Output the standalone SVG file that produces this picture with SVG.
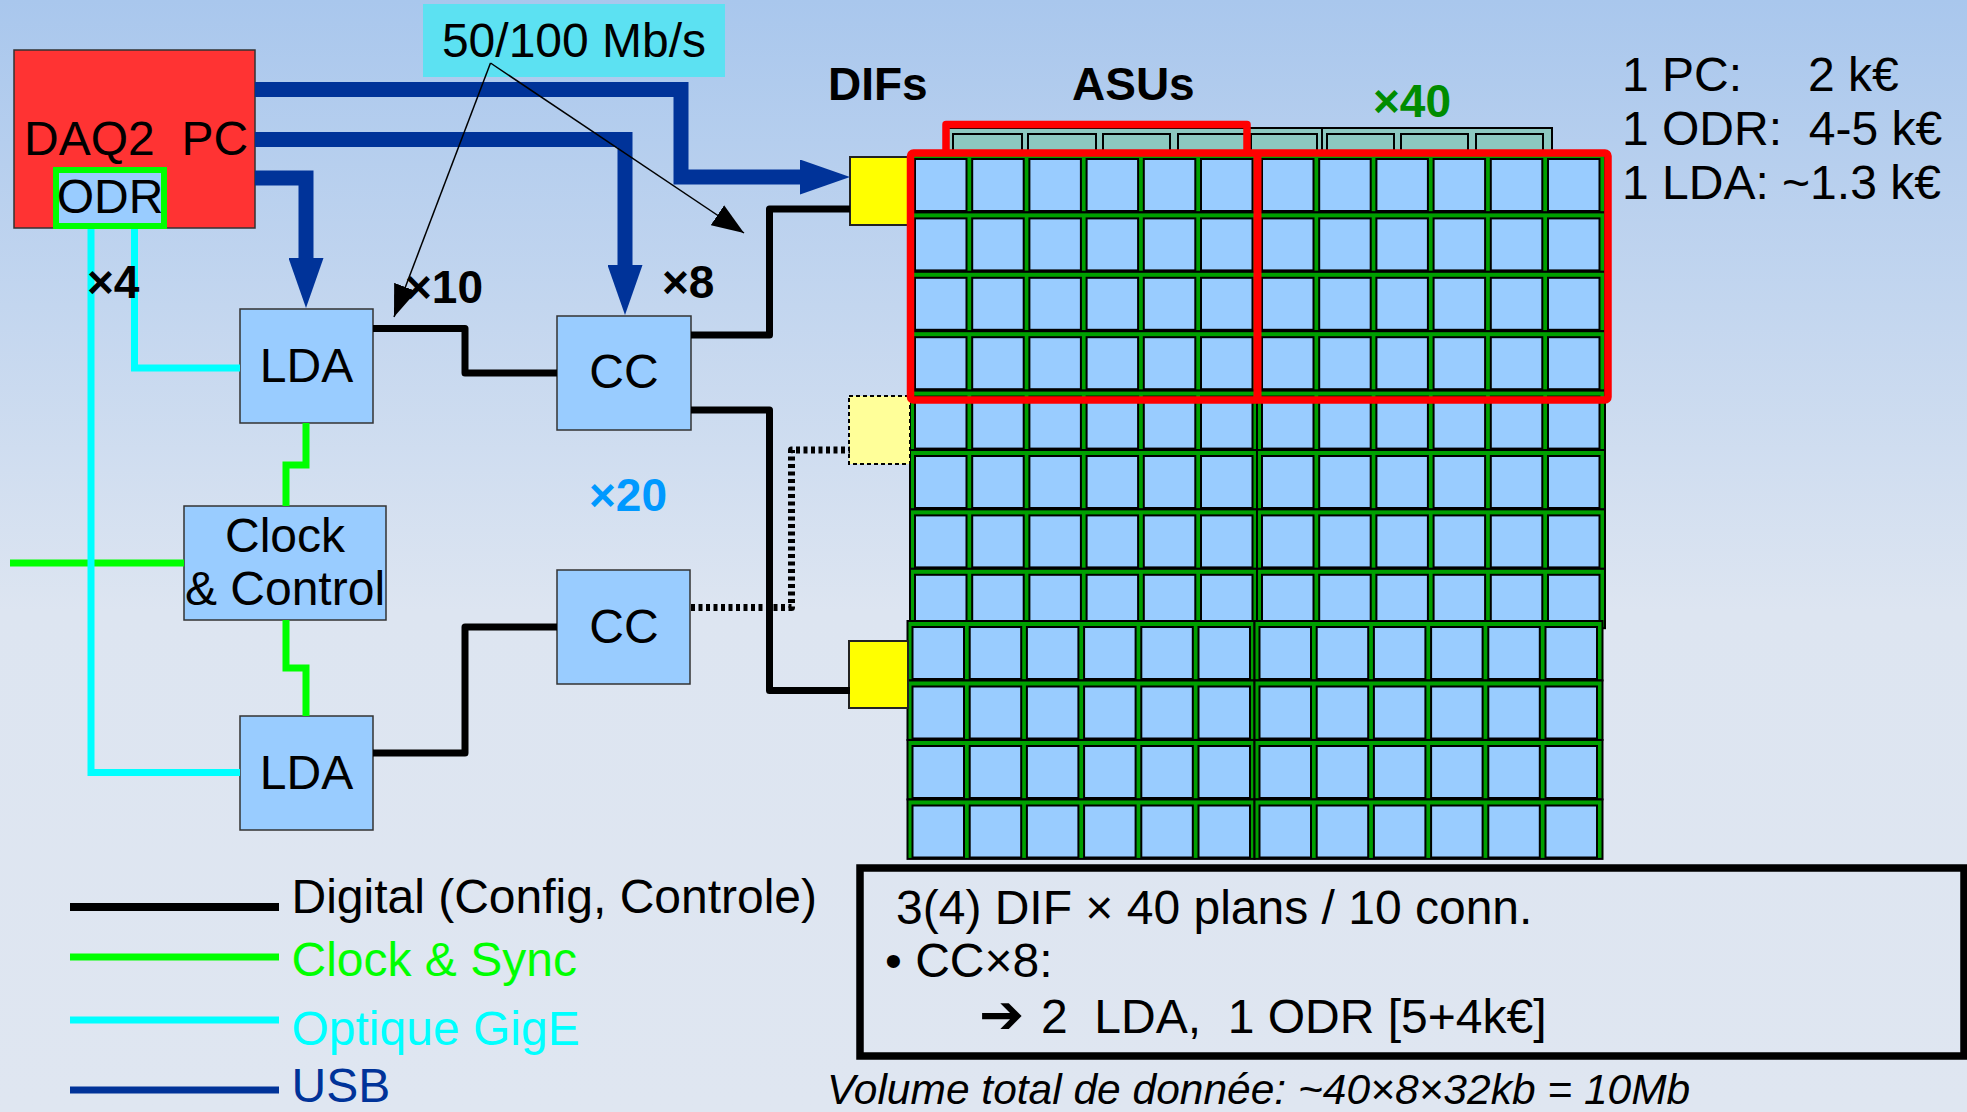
<svg xmlns="http://www.w3.org/2000/svg" xmlns:xlink="http://www.w3.org/1999/xlink" width="1967" height="1112" viewBox="0 0 1967 1112">
<style>
text{font-family:"Liberation Sans",Arial,sans-serif;font-size:48px;fill:#000}
.b{font-weight:bold;font-size:46px}
.box{fill:#99ccff;stroke:#333;stroke-width:1.5}
.usb{fill:none;stroke:#003399;stroke-width:15;stroke-linejoin:miter}
.dig{fill:none;stroke:#000;stroke-width:7;stroke-linejoin:round}
.clk{fill:none;stroke:#00ff00;stroke-width:7}
.opt{fill:none;stroke:#00ffff;stroke-width:7}
.thin{fill:none;stroke:#000;stroke-width:1.5}
.half{fill:#00a000;stroke:#000;stroke-width:2}
.cell{fill:#99ccff;stroke:#000;stroke-width:2}
.teal{fill:#8cc8c0;stroke:#000;stroke-width:2}
.red{fill:none;stroke:#ff0000;stroke-width:7.5;stroke-linejoin:round}
</style>
<defs>
<linearGradient id="bg" x1="0" y1="0" x2="0" y2="1112" gradientUnits="userSpaceOnUse">
<stop offset="0" stop-color="#a9c7ed"/>
<stop offset="0.55" stop-color="#dde5f1"/>
<stop offset="1" stop-color="#dfe6f1"/>
</linearGradient>
<marker id="ua" markerUnits="userSpaceOnUse" markerWidth="50" markerHeight="35" viewBox="0 -17.5 50 35" refX="0" refY="0" orient="auto">
<path d="M0,-17.5 L50,0 L0,17.5 Z" fill="#003399"/>
</marker>
<marker id="ta" markerUnits="userSpaceOnUse" markerWidth="32" markerHeight="24" viewBox="0 -12 32 24" refX="32" refY="0" orient="auto">
<path d="M0,-12 L32,0 L0,12 Z" fill="#000"/>
</marker>
<g id="row">
<rect class="half" x="0" y="0" width="347" height="59.4"/>
<rect class="half" x="347" y="0" width="348" height="59.4"/>
<rect class="cell" x="5" y="6" width="51.5" height="52"/>
<rect class="cell" x="62.2" y="6" width="51.5" height="52"/>
<rect class="cell" x="119.4" y="6" width="51.5" height="52"/>
<rect class="cell" x="176.6" y="6" width="51.5" height="52"/>
<rect class="cell" x="233.8" y="6" width="51.5" height="52"/>
<rect class="cell" x="291" y="6" width="51.5" height="52"/>
<rect class="cell" x="352" y="6" width="51.5" height="52"/>
<rect class="cell" x="409.2" y="6" width="51.5" height="52"/>
<rect class="cell" x="466.4" y="6" width="51.5" height="52"/>
<rect class="cell" x="523.6" y="6" width="51.5" height="52"/>
<rect class="cell" x="580.8" y="6" width="51.5" height="52"/>
<rect class="cell" x="638" y="6" width="51.5" height="52"/>
</g>
</defs>
<rect x="0" y="0" width="1967" height="1112" fill="url(#bg)"/>

<!-- ASU detector planes -->
<g id="asus">
<rect class="teal" x="947" y="128" width="605" height="40"/>
<line x1="1322" y1="128" x2="1322" y2="168" stroke="#000" stroke-width="2"/>
<rect class="teal" x="953" y="134" width="69" height="30"/>
<rect class="teal" x="1028" y="134" width="68" height="30"/>
<rect class="teal" x="1103" y="134" width="67" height="30"/>
<rect class="teal" x="1178" y="134" width="67" height="30"/>
<rect class="teal" x="1251" y="134" width="66" height="30"/>
<rect class="teal" x="1327" y="134" width="67" height="30"/>
<rect class="teal" x="1401" y="134" width="67" height="30"/>
<rect class="teal" x="1476" y="134" width="67" height="30"/>
<path class="red" d="M946,153 V124.5 H1247 V153"/>
<use xlink:href="#row" x="910" y="153"/>
<use xlink:href="#row" x="910" y="212.4"/>
<use xlink:href="#row" x="910" y="271.8"/>
<use xlink:href="#row" x="910" y="331.2"/>
<use xlink:href="#row" x="910" y="390.6"/>
<use xlink:href="#row" x="910" y="450"/>
<use xlink:href="#row" x="910" y="509.4"/>
<use xlink:href="#row" x="910" y="568.8"/>
<use xlink:href="#row" x="907.5" y="621"/>
<use xlink:href="#row" x="907.5" y="680.5"/>
<use xlink:href="#row" x="907.5" y="740"/>
<use xlink:href="#row" x="907.5" y="799.5"/>
</g>

<g id="dif1"><rect x="850" y="157" width="58" height="68" fill="#ffff00" stroke="#222" stroke-width="2"/></g>
<g id="dif2"><rect x="849" y="396" width="61" height="68" fill="#ffff99" stroke="#000" stroke-width="2" stroke-dasharray="4 3"/></g>
<g id="dif3"><rect x="849" y="641" width="59" height="67" fill="#ffff00" stroke="#222" stroke-width="2"/></g>

<g id="redframe">
<rect class="red" x="910.5" y="153" width="697.5" height="247" rx="3"/>
<line x1="1257.5" y1="153" x2="1257.5" y2="400" stroke="#ff0000" stroke-width="8"/>
</g>

<!-- Nodes -->
<g id="daq2pc">
<rect x="14" y="50" width="241" height="178" fill="#ff3333" stroke="#333" stroke-width="1.5"/>
<text x="24" y="155" xml:space="preserve">DAQ2  PC</text>
</g>
<g id="odr">
<rect x="56" y="170" width="108" height="56" fill="#99ccff" stroke="#00ff00" stroke-width="6"/>
<text x="110" y="213" text-anchor="middle">ODR</text>
</g>
<g id="rate">
<rect x="423" y="4" width="302" height="73" fill="#5ce1f2"/>
<text x="574" y="57" text-anchor="middle">50/100 Mb/s</text>
</g>
<g id="lda1">
<rect class="box" x="240" y="309" width="133" height="114"/>
<text x="306.5" y="382" text-anchor="middle">LDA</text>
</g>
<g id="cc1">
<rect class="box" x="557" y="316" width="134" height="114"/>
<text x="624" y="388" text-anchor="middle">CC</text>
</g>
<g id="clock">
<rect class="box" x="184" y="506" width="202" height="114"/>
<text x="285" y="552" text-anchor="middle">Clock</text>
<text x="285" y="605" text-anchor="middle">&amp; Control</text>
</g>
<g id="lda2">
<rect class="box" x="240" y="716" width="133" height="114"/>
<text x="306.5" y="789" text-anchor="middle">LDA</text>
</g>
<g id="cc2">
<rect class="box" x="557" y="570" width="133" height="114"/>
<text x="624" y="643" text-anchor="middle">CC</text>
</g>

<!-- Connectors -->
<g id="connectors">
<path class="clk" d="M306,423 V465 H286 V506"/>
<path class="clk" d="M286,620 V668 H306 V716"/>
<path class="clk" d="M10,563 H184"/>
<path class="opt" d="M91,229 V772.5 H240"/>
<path class="opt" d="M134.5,229 V368 H240"/>
<path class="dig" d="M373,328.5 H465 V373 H557"/>
<path class="dig" d="M373,753 H465 V627 H557"/>
<path class="dig" d="M691,335 H769.5 V209 H850"/>
<path class="dig" d="M691,410 H769.5 V690.5 H850"/>
<path class="dig" d="M691,607.5 H791.5 V450 H850" stroke-dasharray="4 3.5" stroke-linejoin="miter"/>
<path class="usb" d="M255,89.5 H681 V177 H800" marker-end="url(#ua)"/>
<path class="usb" d="M255,139.5 H625 V265" marker-end="url(#ua)"/>
<path class="usb" d="M255,178 H306 V258" marker-end="url(#ua)"/>
<path class="thin" d="M490.5,63 L394,317" marker-end="url(#ta)"/>
<path class="thin" d="M490.5,63 L744,233" marker-end="url(#ta)"/>
</g>

<!-- Labels -->
<text class="b" x="87" y="298">×4</text>
<text class="b" x="405" y="303">×10</text>
<text class="b" x="662" y="298">×8</text>
<text class="b" x="589" y="511" style="fill:#0099ff">×20</text>
<text class="b" x="828" y="100">DIFs</text>
<text class="b" x="1072" y="100">ASUs</text>
<text class="b" x="1373" y="117" style="fill:#008c00">×40</text>
<text x="1622" y="91">1 PC:<tspan x="1808">2 k€</tspan></text>
<text x="1622" y="145" xml:space="preserve">1 ODR:  4-5 k€</text>
<text x="1622" y="199">1 LDA: ~1.3 k€</text>

<!-- Legend -->
<g id="legend">
<line x1="70" y1="907" x2="279" y2="907" stroke="#000" stroke-width="8"/>
<text x="291.5" y="913">Digital (Config, Controle)</text>
<line x1="70" y1="957" x2="279" y2="957" stroke="#00ff00" stroke-width="7"/>
<text x="291.5" y="976" style="fill:#00ff00">Clock &amp; Sync</text>
<line x1="70" y1="1020" x2="279" y2="1020" stroke="#00ffff" stroke-width="7"/>
<text x="291.5" y="1045" style="fill:#00ffff">Optique GigE</text>
<line x1="70" y1="1090" x2="279" y2="1090" stroke="#003399" stroke-width="7"/>
<text x="291.5" y="1102" style="fill:#003399">USB</text>
</g>

<!-- Summary -->
<g id="summary">
<rect x="860" y="868" width="1104" height="188" fill="none" stroke="#000" stroke-width="7.5"/>
<text x="896" y="924">3(4) DIF × 40 plans / 10 conn.</text>
<text x="885" y="977">• CC×8:</text>
<text x="979" y="1033" xml:space="preserve"><tspan style="font-family:'DejaVu Sans',sans-serif;font-size:54px;font-weight:bold">➔</tspan><tspan x="1041">2  LDA,  1 ODR [5+4k€]</tspan></text>
<text x="827" y="1104" style="font-style:italic;font-size:42.5px">Volume total de donnée: ~40×8×32kb = 10Mb</text>
</g>
</svg>
